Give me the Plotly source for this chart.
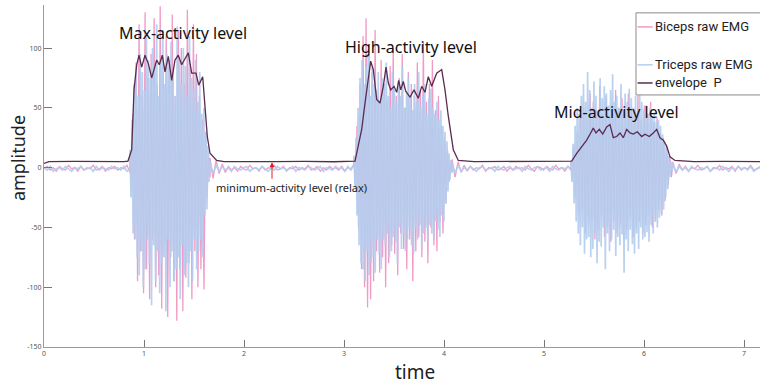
import numpy as np
import plotly.graph_objects as go

# ---------------- data ----------------
# segment boundaries (time) for the raw EMG recordings
seg_bounds = [0.0, 0.86, 1.66, 3.10, 4.08, 5.27, 6.29, 7.16]

# Biceps raw EMG (pink) – values per segment
bic_rest0 = [-1, 1, -2, 0, -3, 1, -1, -2, 2, -1, 0, -3, 1, -2, 0, -1, 2, -2, -1, 1, -3, 0, -1, 1, -2, 0, -1, 2, -4]
bic_b1 = [12, -20, 45, -60, 88, -95, 120, -70, 60, -105, 130, -85, 75, -110, 95, -60, 125, -100, 70, -90,
          135, -118, 80, -65, 110, -125, 90, -75, 128, -95, 60, -128, 115, -85, 100, -120, 70, -92, 132, -80,
          85, -110, 120, -70, 95, -100, 60, -85, 40, -102, 30, -25, 12, -8]
bic_rest1 = [8, -9, 6, -5, 3, -4, 1, -2, 0, -3, 1, -1, -2, 2, -1, 0, -3, 1, -2, 0, -1, 2, -2, -1,
             1, -3, 0, -1, 1, -2, 0, -1, 2, -2, -1, 1, -3, 0, -2, 1, -1, 0, -2, 1, -3, 0, -1, 3]
bic_b2 = [10, -18, 35, -50, 70, -85, 110, -100, 125, -117, 95, -110, 80, -95, 115, -70, 60, -88, 90, -75,
          70, -100, 55, -80, 85, -65, 100, -72, 60, -90, 75, -55, 95, -68, 50, -85, 80, -60, 70, -95,
          60, -70, 88, -58, 65, -75, 105, -62, 55, -80, 70, -50, 90, -65, 48, -70, 60, -45, 35, -55,
          25, -30, 15, -12, 6, -4]
bic_rest2 = [7, -8, 5, -4, 2, -3, 1, -2, 0, -1, 2, -3, 0, -1, 1, -2, -1, 1, -3, 0, -2, 1, -1, 0,
             -2, 2, -1, -3, 1, 0, -2, 1, -1, -2, 2, -1, 0, -3, 1, -2]
bic_b3 = [6, -10, 18, -25, 30, -40, 45, -35, 50, -55, 40, -48, 62, -45, 55, -60, 48, -52, 68, -40,
          45, -58, 60, -50, 42, -62, 55, -45, 65, -55, 50, -48, 58, -60, 45, -52, 62, -42, 50, -58,
          48, -50, 60, -45, 40, -55, 52, -48, 45, -40, 55, -50, 38, -45, 42, -35, 30, -40, 25, -28,
          18, -15, 10, -8, 5]
bic_rest3 = [4, -5, 3, -2, 1, -3, 0, -1, 2, -2, -1, 1, -3, 0, -1, 2, -2, 0, -1, 1, -3, 1, -2, 0, -1, 2, -2, -1, 1]

# Triceps raw EMG (light blue)
tri_rest0 = [0, -2, 1, -3, -1, 0, -2, 1, -1, -3, 0, -1, 1, -2, -1, 0, -3, 1, -2, 0, -1, -2, 1, -1, 0, -2, 1, -3, -1]
tri_b1 = [15, -25, 40, -55, 70, -60, 85, -75, 60, -90, 95, -70, 80, -100, 65, -85, 110, -60, 90, -80,
          75, -115, 100, -65, 85, -95, 120, -70, 60, -105, 90, -80, 115, -75, 70, -120, 95, -60, 85, -100,
          105, -70, 80, -95, 60, -85, 118, -75, 90, -110, 70, -65, 100, -90, 85, -80, 60, -100, 110, -70,
          75, -95, 65, -60, 90, -85, 55, -70, 80, -60, 45, -75, 50, -40, 30, -35, 18, -12, 6]
tri_rest1 = [4, -5, 2, -3, 1, -2, 0, -3, 1, -1, -2, 0, 1, -3, -1, 0, -2, 1, -1, -3, 0, -2, 1, -1,
             0, -2, -1, 1, -3, 0, -1, -2, 1, 0, -2, -1, 1, -3, 0, -1, -2, 1, -1, 0, -3, 1, -2, 2]
tri_b2 = [8, -15, 25, -40, 50, -65, 75, -80, 90, -85, 70, -95, 85, -70, 95, -90, 60, -80, 85, -75,
          70, -88, 65, -60, 80, -72, 55, -85, 75, -60, 70, -65, 88, -55, 60, -75, 50, -70, 80, -58,
          65, -62, 55, -80, 72, -50, 60, -68, 85, -55, 50, -70, 62, -60, 75, -52, 58, -65, 48, -72,
          70, -50, 55, -60, 80, -48, 52, -66, 60, -55, 70, -50, 45, -62, 58, -48, 66, -55, 50, -60,
          45, -45, 55, -52, 40, -58, 48, -40, 35, -45, 30, -30, 22, -20, 12, -10, 6, -4]
tri_rest2 = [4, -5, 2, -3, 0, -2, 1, -1, -3, 0, 1, -2, -1, 0, -3, 1, -1, -2, 0, 1, -2, -1, 0, -3,
             1, -1, -2, 0, 1, -2, -1, 0, -3, 1, -1, -2, 0, -1, 1, -2]
tri_b3 = [5, -12, 20, -30, 35, -45, 50, -55, 45, -65, 60, -50, 70, -72, 55, -60, 80, -58, 65, -75,
          50, -68, 72, -55, 60, -80, 48, -62, 75, -66, 58, -50, 68, -85, 62, -55, 52, -70, 65, -60,
          78, -52, 55, -74, 60, -58, 50, -65, 70, -56, 48, -88, 62, -60, 55, -70, 66, -52, 58, -64,
          50, -72, 60, -55, 45, -68, 62, -50, 55, -60, 48, -58, 52, -54, 45, -62, 50, -48, 42, -55,
          46, -45, 38, -50, 40, -42, 35, -38, 28, -35, 22, -25, 15, -18, 10, -8, 5, -3, 2]
tri_rest3 = [3, -4, 1, -2, 0, -3, 1, -1, -2, 0, -1, 1, -3, -1, 0, -2, 1, -1, -3, 0, -2, 1, -1, 0, -2, 1, -3, -1, 0]

# envelope P
env_t = [0.00, 0.05, 0.30, 0.60, 0.80, 0.84, 0.877, 0.90, 0.927, 0.95, 0.977, 1.01, 1.043, 1.077, 1.093,
         1.127, 1.153, 1.183, 1.21, 1.243, 1.277, 1.31, 1.343, 1.377, 1.403, 1.443, 1.477, 1.52, 1.547,
         1.587, 1.61, 1.633, 1.66, 1.727, 1.80, 2.00, 2.30, 2.60, 2.90, 3.11,
         3.143, 3.177, 3.21, 3.243, 3.267, 3.293, 3.327, 3.36, 3.393, 3.42, 3.443, 3.467, 3.50, 3.527,
         3.547, 3.567, 3.593, 3.617, 3.66, 3.70, 3.743, 3.777, 3.81, 3.843, 3.877, 3.927, 3.977, 4.01,
         4.043, 4.093, 4.143, 4.30, 4.60, 4.90, 5.10, 5.277,
         5.327, 5.377, 5.427, 5.467, 5.493, 5.52, 5.553, 5.587, 5.627, 5.66, 5.693, 5.727, 5.76, 5.793,
         5.827, 5.86, 5.893, 5.933, 5.977, 6.01, 6.053, 6.093, 6.127, 6.16, 6.193, 6.227, 6.26, 6.31,
         6.50, 6.80, 7.00, 7.16]
env_v = [3.5, 5.0, 5.2, 4.8, 5.0, 5.5, 15, 65, 86, 94, 84, 94, 87, 75, 80,
         90, 86, 94, 80, 93, 73, 90, 94, 86, 90, 96, 79, 79, 69,
         76, 51, 26, 12, 6, 5.0, 4.8, 5.0, 5.2, 4.9, 5.4,
         18, 32, 54, 73, 89, 82, 57, 54, 68, 84, 71, 65, 68, 63,
         73, 65, 72, 64, 59, 65, 58, 68, 63, 76, 68, 79, 82, 65,
         43, 15, 6, 5.0, 5.2, 4.8, 5.0, 5.4,
         12, 18, 23, 29, 33, 29, 32, 28, 34, 36, 25, 26, 29, 25,
         32, 29, 28, 30, 26, 28, 26, 29, 32, 25, 23, 18, 9, 6,
         5.0, 5.2, 4.8, 5.0]

y_tick_vals = [-150, -100, -50, 0, 50, 100]
y_tick_text = ["-150", "-100", "-50", "0", "50", "100"]
x_tick_vals = [0, 1, 2, 3, 4, 5, 6, 7]
x_tick_text = ["0", "1", "2", "3", "4", "5", "6", "7"]

series_names = ["Biceps raw EMG", "Triceps raw EMG", "envelope  P"]
level_labels = ["Max-activity level", "High-activity level", "Mid-activity level",
                "minimum-activity level (relax)"]

# ---------------- build ----------------
def assemble(segments):
    ts, vs = [], []
    for i, vals in enumerate(segments):
        t0, t1 = seg_bounds[i], seg_bounds[i + 1]
        ts.append(np.linspace(t0, t1, len(vals)))
        vs.append(np.array(vals, dtype=float))
    return np.concatenate(ts), np.concatenate(vs)

bic_t, bic_v = assemble([bic_rest0, bic_b1, bic_rest1, bic_b2, bic_rest2, bic_b3, bic_rest3])
tri_t, tri_v = assemble([tri_rest0, tri_b1, tri_rest1, tri_b2, tri_rest2, tri_b3, tri_rest3])

PINK = "#f29ac6"
BLUE = "#b4cdef"
ENV = "#5a2c4e"
FONT = "Noto Sans"

fig = go.Figure()
fig.add_trace(go.Scatter(x=bic_t, y=bic_v, mode="lines", name=series_names[0],
                         line=dict(color=PINK, width=1.3, simplify=False), showlegend=False))
fig.add_trace(go.Scatter(x=tri_t, y=tri_v, mode="lines", name=series_names[1], opacity=0.9,
                         line=dict(color=BLUE, width=1.7, simplify=False), showlegend=False))
fig.add_trace(go.Scatter(x=env_t, y=env_v, mode="lines", name=series_names[2],
                         line=dict(color=ENV, width=1.3), showlegend=False))

# manual legend (box, line samples, labels)
fig.add_shape(type="rect", xref="paper", yref="paper", x0=0.8268, x1=1.05, y0=0.737, y1=0.977,
              line=dict(color="#8a8a8a", width=1), fillcolor="white", layer="above")
leg_y = [0.936, 0.825, 0.772]
for yy, col, nm in zip(leg_y, [PINK, BLUE, ENV], series_names):
    fig.add_shape(type="line", xref="paper", yref="paper", x0=0.829, x1=0.850, y0=yy, y1=yy,
                  line=dict(color=col, width=1.5), layer="above")
    fig.add_annotation(xref="paper", yref="paper", x=0.851, y=yy, text=nm, showarrow=False,
                       xanchor="left", yanchor="middle",
                       font=dict(family="Roboto", size=13, color="#222"))

# level annotations
lvl_pos = [(1.39, 113), (3.67, 101), (5.72, 46.5)]
for (xx, yy), txt in zip(lvl_pos, level_labels[:3]):
    fig.add_annotation(x=xx, y=yy, text=txt, showarrow=False, xanchor="center", yanchor="middle",
                       font=dict(family=FONT, size=16, color="#111"))
fig.add_annotation(x=2.47, y=-17, text=level_labels[3], showarrow=False, xanchor="center",
                   yanchor="middle", font=dict(family=FONT, size=11, color="#222"))
fig.add_annotation(x=2.28, y=4.5, ax=0, ay=18, text="", showarrow=True,
                   arrowhead=2, arrowsize=1, arrowwidth=1, arrowcolor="#e02020")

# axis titles
fig.add_annotation(xref="paper", yref="paper", x=-0.036, y=0.553, text="amplitude", textangle=-90,
                   showarrow=False, xanchor="center", yanchor="middle",
                   font=dict(family=FONT, size=18, color="#222"))
fig.add_annotation(xref="paper", yref="paper", x=0.518, y=-0.073, text="time",
                   showarrow=False, xanchor="center", yanchor="middle",
                   font=dict(family=FONT, size=19, color="#222"))

fig.update_xaxes(range=[0, 7.16], tickvals=x_tick_vals, ticktext=x_tick_text,
                 showgrid=False, zeroline=False, showline=True, linecolor="#9a9a9a", linewidth=1,
                 ticks="inside", ticklen=7, tickcolor="#777",
                 tickfont=dict(family=FONT, size=7, color="#555"))
fig.update_yaxes(range=[-150, 136], tickvals=y_tick_vals, ticktext=y_tick_text,
                 showgrid=False, zeroline=False, showline=True, linecolor="#9a9a9a", linewidth=1,
                 ticks="inside", ticklen=8, tickcolor="#777",
                 tickfont=dict(family=FONT, size=7, color="#555"))

fig.update_layout(width=760, height=385, margin=dict(l=44, r=0, t=5, b=38, autoexpand=False),
                  paper_bgcolor="white", plot_bgcolor="white", showlegend=False)

fig.write_html("out.html")
